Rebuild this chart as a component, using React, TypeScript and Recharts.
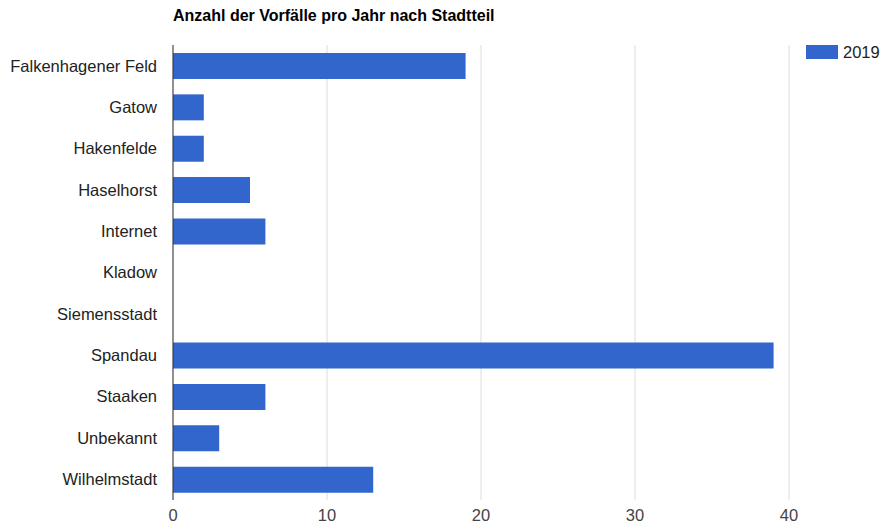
import React from "react";
import { BarChart, Bar, XAxis, YAxis, CartesianGrid } from "recharts";

const districts = [
  "Falkenhagener Feld",
  "Gatow",
  "Hakenfelde",
  "Haselhorst",
  "Internet",
  "Kladow",
  "Siemensstadt",
  "Spandau",
  "Staaken",
  "Unbekannt",
  "Wilhelmstadt",
];
const values2019 = [19, 2, 2, 5, 6, 0, 0, 39, 6, 3, 13];
const xTicks = [0, 10, 20, 30, 40];
const seriesName = "2019";
const title = "Anzahl der Vorfälle pro Jahr nach Stadtteil";

const data = districts.map((d, i) => ({ name: d, v: values2019[i] }));

const FONT = "Arial, 'Liberation Sans', sans-serif";
const BLUE = "#3366cc";

export default function App() {
  return (
    <div style={{ position: "absolute", left: 0, top: 0, width: 882, height: 524, background: "#fff" }}>
      <div
        style={{
          position: "absolute",
          left: 173,
          top: 6,
          fontFamily: FONT,
          fontSize: 16,
          fontWeight: "bold",
          color: "#000",
          whiteSpace: "nowrap",
          lineHeight: "20px",
        }}
      >
        {title}
      </div>
      <div
        style={{
          position: "absolute",
          left: 806,
          top: 42,
          display: "flex",
          alignItems: "center",
          fontFamily: FONT,
          fontSize: 16.5,
          color: "#222",
          lineHeight: "20px",
        }}
      >
        <span style={{ display: "inline-block", width: 32, height: 14, background: BLUE, marginRight: 5 }} />
        <span>{seriesName}</span>
      </div>
      <BarChart
        width={882}
        height={524}
        data={data}
        layout="vertical"
        margin={{ top: 45, right: 93, bottom: 0, left: 0 }}
        barSize={26}
      >
        <CartesianGrid horizontal={false} vertical={true} stroke="#dcdcdc" />
        <XAxis
          type="number"
          domain={[0, 40]}
          ticks={xTicks}
          axisLine={false}
          tickLine={false}
          tickSize={0}
          tickMargin={9}
          height={24}
          tick={{ fill: "#444", fontSize: 16.5, fontFamily: FONT }}
        />
        <YAxis
          type="category"
          dataKey="name"
          width={173}
          axisLine={{ stroke: "#333", strokeWidth: 1 }}
          tickLine={false}
          tickSize={0}
          tickMargin={16}
          interval={0}
          tick={{ fill: "#222", fontSize: 16.5, fontFamily: FONT }}
        />
        <Bar dataKey="v" name={seriesName} fill={BLUE} isAnimationActive={false} />
      </BarChart>
    </div>
  );
}
